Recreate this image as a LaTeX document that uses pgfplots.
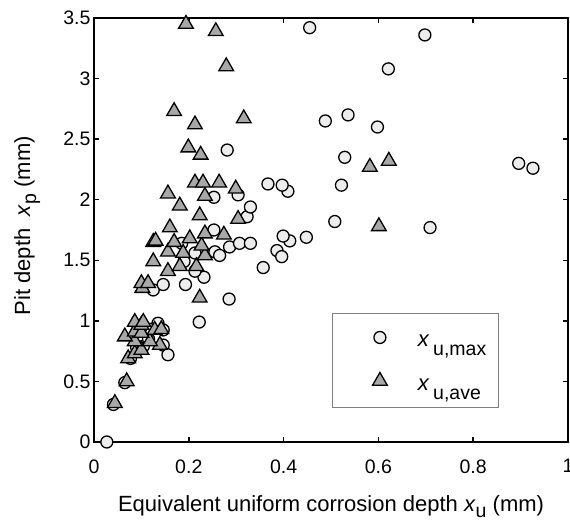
\documentclass[border=0pt]{standalone}
\usepackage{fontspec}
\setmainfont{Liberation Sans}
\usepackage{pgfplots}
\pgfplotsset{compat=1.18}
\definecolor{cfill}{gray}{0.93}
\definecolor{tfill}{gray}{0.66}
\begin{document}
\begin{tikzpicture}
\useasboundingbox (-94pt,-79pt) rectangle (476pt,442pt);
\begin{axis}[
  scale only axis, width=474pt, height=424pt,
  xmin=0, xmax=1, ymin=0, ymax=3.5,
  xtick={0,0.2,0.4,0.6,0.8,1},
  ytick={0,0.5,1,1.5,2,2.5,3,3.5},
  xtick pos=both, ytick pos=both,
  xticklabel pos=lower, yticklabel pos=left,
  tick align=inside,
  major tick length=5pt,
  axis line style={line width=1.5pt},
  every tick/.style={black, line width=1.5pt},
  tick label style={font=\fontsize{19.5}{23}\selectfont},
  xticklabel style={yshift=-14pt},
  /pgf/number format/assume math mode=true,
  label style={font=\fontsize{22}{26}\selectfont},
  xlabel={Equivalent uniform corrosion depth \textit{x}\raisebox{-6pt}{\fontsize{19.5}{23}\selectfont u} (mm)},
  ylabel={Pit depth \ \textit{x}\raisebox{-6pt}{\fontsize{19.5}{23}\selectfont p} (mm)},
  xlabel style={at={(axis description cs:0.5,-0.153)}, anchor=center},
  ylabel style={at={(axis description cs:-0.141,0.51)}, anchor=center},
  clip=false,
  legend style={at={(axis cs:0.503,1.065)}, anchor=north west, draw=gray, line width=1pt,
    inner xsep=12pt, inner ysep=16pt, row sep=24pt, column sep=13pt,
    font=\fontsize{22}{26}\selectfont, nodes={inner sep=0pt}},
  legend image code/.code={\path[draw=none] (0pt,-7pt) rectangle (60pt,12pt); \draw[#1] plot coordinates {(35pt,4pt)};},
  legend cell align=left,
]
\addplot[only marks, mark=*, mark size=6pt, mark options={fill=cfill, draw=black, line width=1.3pt}] coordinates {
(0.027,0.00) (0.041,0.31) (0.065,0.49) (0.077,0.69) (0.090,0.78) (0.104,0.79)
(0.115,0.85) (0.090,0.91) (0.120,0.93) (0.100,0.95) (0.135,0.98) (0.146,0.925)
(0.146,0.80) (0.156,0.72) (0.222,0.99) (0.285,1.18) (0.125,1.255) (0.146,1.30)
(0.193,1.30) (0.232,1.36) (0.213,1.41) (0.357,1.44) (0.190,1.49) (0.213,1.56)
(0.185,1.64) (0.255,1.57) (0.265,1.54) (0.386,1.58) (0.396,1.53) (0.286,1.61)
(0.307,1.64) (0.330,1.64) (0.413,1.66) (0.399,1.70) (0.448,1.69) (0.253,1.75)
(0.709,1.77) (0.508,1.82) (0.323,1.86) (0.330,1.94) (0.253,2.02) (0.304,2.04)
(0.409,2.07) (0.367,2.13) (0.397,2.12) (0.522,2.12) (0.926,2.26) (0.896,2.30)
(0.529,2.35) (0.281,2.41) (0.598,2.60) (0.488,2.65) (0.536,2.70) (0.621,3.08)
(0.698,3.36) (0.455,3.42)
};
\addlegendentry{\textit{x}\,\raisebox{-9pt}{\fontsize{19.5}{23}\selectfont u,max}\hspace{9pt}}
\addplot[only marks, mark=triangle*, mark size=8.5pt, mark options={fill=tfill, draw=black, line width=1.3pt}] coordinates {
(0.044,0.32) (0.069,0.50) (0.072,0.69) (0.086,0.73) (0.100,0.76) (0.139,0.80)
(0.086,0.83) (0.118,0.83) (0.065,0.87) (0.086,0.91) (0.100,0.90) (0.128,0.925)
(0.142,0.93) (0.100,0.966) (0.086,0.99) (0.104,0.99) (0.223,1.19) (0.102,1.27)
(0.100,1.31) (0.114,1.31) (0.156,1.41) (0.181,1.45) (0.216,1.45) (0.125,1.49)
(0.234,1.54) (0.156,1.57) (0.188,1.56) (0.227,1.62) (0.125,1.65) (0.130,1.66)
(0.169,1.65) (0.202,1.68) (0.234,1.72) (0.274,1.71) (0.160,1.77) (0.601,1.78)
(0.304,1.84) (0.223,1.87) (0.181,1.95) (0.234,2.03) (0.156,2.05) (0.299,2.09)
(0.213,2.14) (0.230,2.14) (0.264,2.14) (0.582,2.27) (0.622,2.32) (0.225,2.37)
(0.199,2.43) (0.213,2.62) (0.316,2.67) (0.169,2.73) (0.279,3.10) (0.257,3.39)
(0.194,3.45)
};
\addlegendentry{\textit{x}\,\raisebox{-9pt}{\fontsize{19.5}{23}\selectfont u,ave}\hspace{9pt}}
\end{axis}
\end{tikzpicture}
\end{document}
